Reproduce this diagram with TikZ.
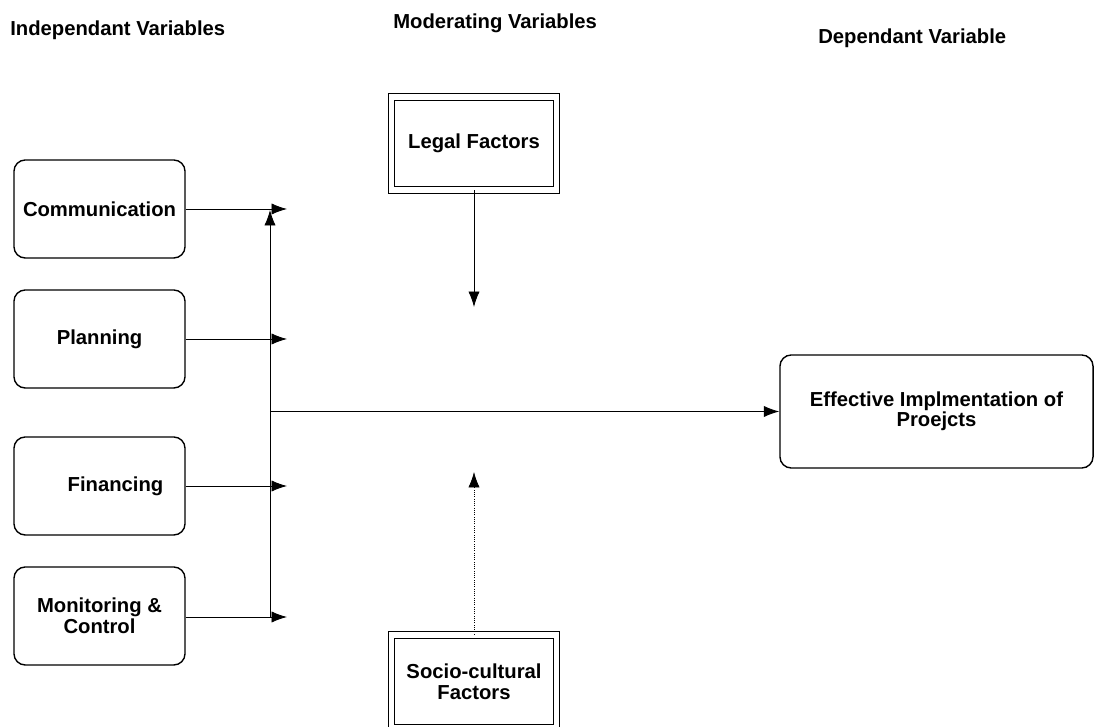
\documentclass[tikz,border=0pt]{standalone}
\usepackage{fontspec}
\setmainfont{Liberation Sans}
\usetikzlibrary{arrows.meta}

\tikzset{
	boxfont/.style = {font = \bfseries\fontsize{14.4}{14.6}\selectfont},
	varbox/.style = {draw, line width = 1pt, rounded corners = 8pt, minimum width = 4.275cm, minimum height = 2.45cm, inner sep = 0pt, align = center, boxfont},
	modbox/.style = {draw, double, line width = 0.7pt, double distance = 4.2pt, minimum width = 4.125cm, minimum height = 2.325cm, inner sep = 0pt, align = center, boxfont},
	heading/.style = {anchor = west, inner sep = 0pt, boxfont},
	link/.style = {line width = 0.6pt, -{Latex[length = 11pt, width = 8pt]}},
}

\begin{document}
\begin{tikzpicture}[x = 0.025cm, y = -0.025cm]
	
	\useasboundingbox (0, 0) rectangle (1094, 727);
	
	% Column headings
	
	\node [heading] (indep) at (10, 30) {Independant Variables};
	\node [heading] (moder) at (393, 23) {Moderating Variables};
	\node [heading] (dep) at (818, 38) {Dependant Variable};
	
	% Independent variables
	
	\node [varbox] (comm) at (99.5, 209) {Communication};
	\node [varbox] (plan) at (99.5, 339) {Planning};
	\node [varbox] (fin) at (99.5, 486) {\hspace*{0.8cm}Financing};
	\node [varbox] (mon) at (99.5, 616) {Monitoring \&\\Control};
	
	% Moderating variables
	
	\node [modbox] (legal) at (474, 143.5) {Legal Factors};
	\node [modbox] (socio) at (474, 681.5) {Socio-cultural\\Factors};
	
	% Dependent variable
	
	\node [varbox, minimum width = 7.825cm, minimum height = 2.825cm] (eff) at (936.5, 411.5) {Effective Implmentation of\\Proejcts};
	
	% Junction points
	
	\coordinate (tip) at (287, 0);
	\coordinate (bustop) at (270, 210);
	\coordinate (busbot) at (270, 617);
	\coordinate (hub) at (270, 411.5);
	\coordinate (legaltip) at (474, 307);
	\coordinate (sociotip) at (474, 472);
	
	% Arrows
	
	\draw [link] (comm.east) -- (comm.east -| tip);
	\draw [link] (plan.east) -- (plan.east -| tip);
	\draw [link] (fin.east) -- (fin.east -| tip);
	\draw [link] (mon.east |- busbot) -- (busbot -| tip);
	
	\draw [link] (busbot) -- (bustop);
	\draw [link] (hub) -- (eff.west);
	
	\draw [link] (legal.south) -- (legaltip);
	\draw [link, densely dotted, line width = 0.5pt] (socio.north) -- (sociotip);
	
\end{tikzpicture}
\end{document}
